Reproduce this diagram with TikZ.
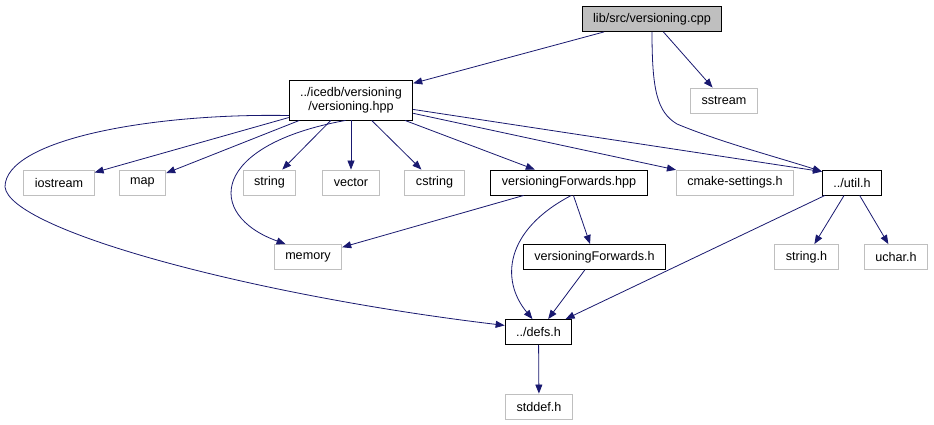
\documentclass[tikz,border=0pt]{standalone}
\usepackage{fontspec}
\setmainfont{Liberation Sans}
\usetikzlibrary{arrows.meta}
\definecolor{edgeblue}{RGB}{25,25,112}
\definecolor{boxgray}{RGB}{191,191,191}

\begin{document}
\begin{tikzpicture}[x=1pt, y=-1pt, font=\fontsize{12.6}{14}\selectfont]
\tikzset{
  filebox/.style={draw=black, line width=0.9pt, fill=white, inner xsep=11pt, inner ysep=0pt, minimum height=25pt},
  sysbox/.style={draw=boxgray, line width=0.9pt, fill=white, inner xsep=11pt, inner ysep=0pt, minimum height=25pt},
  rootbox/.style={filebox, fill=boxgray},
  incl/.style={draw=edgeblue, line width=0.8pt, -{Triangle[length=9pt,width=7pt]}}
}
\fill[white] (0,0) rectangle (934,425);
\useasboundingbox (0,0) rectangle (934,425);
% top
\node[rootbox] (cpp) at (652,19) {lib/src/versioning.cpp};
\node[filebox, minimum height=40pt, align=center] (vhpp) at (351,100) {../icedb/versioning\\/versioning.hpp};
\node[sysbox] (sstrm) at (724,100.5) {sstream};
% row of direct includes
\node[sysbox] (iostrm) at (59,182.5) {iostream};
\node[sysbox] (mapn) at (142.5,182.5) {map};
\node[sysbox] (strn) at (269.5,182.5) {string};
\node[sysbox] (vecn) at (351,182.5) {vector};
\node[sysbox] (cstr) at (434.5,182.5) {cstring};
\node[filebox] (vfhpp) at (569,182.5) {versioningForwards.hpp};
\node[sysbox] (cmake) at (735,182.5) {cmake-settings.h};
\node[filebox] (util) at (852,182.5) {../util.h};
% lower rows
\node[sysbox] (memn) at (308,257) {memory};
\node[filebox] (vfh) at (594.5,257) {versioningForwards.h};
\node[sysbox] (strh) at (806.5,257) {string.h};
\node[sysbox] (ucharh) at (896,257) {uchar.h};
\node[filebox] (defs) at (538.5,332) {../defs.h};
\node[sysbox] (stddefh) at (539,406.5) {stddef.h};
% edges from the source file
\draw[incl] (cpp) -- (vhpp);
\draw[incl] (cpp) -- (sstrm);
\draw[incl] (cpp.south) .. controls (652,90) and (657,112) .. (677,124)
  .. controls (720,142) and (780,158) .. (util.160);
% edges from versioning.hpp
\draw[incl] (vhpp) -- (iostrm);
\draw[incl] (vhpp) -- (mapn);
\draw[incl] (vhpp) -- (strn);
\draw[incl] (vhpp) -- (vecn);
\draw[incl] (vhpp) -- (cstr);
\draw[incl] (vhpp) -- (vfhpp);
\draw[incl] (vhpp) -- (cmake);
\draw[incl] (vhpp) -- (util.160);
\draw[incl] (vhpp.-105) .. controls (210,145) and (205,215) .. (memn.150);
\draw[incl] (vhpp.194) .. controls (150,113) and (5,140) .. (5,187)
  .. controls (10,230) and (250,295) .. (defs.169);
% edges from versioningForwards.hpp
\draw[incl] (vfhpp) -- (memn);
\draw[incl] (vfhpp) -- (vfh);
\draw[incl] (vfhpp.-80) .. controls (505,230) and (500,280) .. (defs.115);
\draw[incl] (vfh) -- (defs);
% edges from util.h
\draw[incl] (util) -- (defs);
\draw[incl] (util) -- (strh);
\draw[incl] (util) -- (ucharh);
\draw[incl] (defs) -- (stddefh);
\end{tikzpicture}
\end{document}
